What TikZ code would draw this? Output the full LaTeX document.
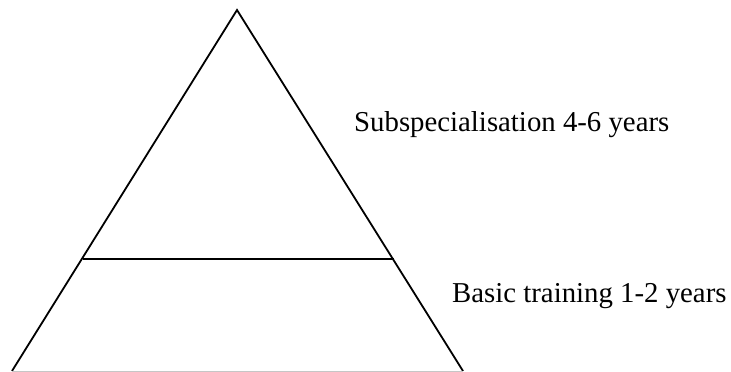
\documentclass[tikz,border=0pt]{standalone}
\usepackage{fontspec}
\setmainfont{Liberation Serif}
\begin{document}
\begin{tikzpicture}[x=1pt,y=-1pt,
  edge/.style={line width=1.8pt,line join=miter},
  lbl/.style={anchor=base west,inner sep=0pt,font=\fontsize{28.8}{32}\selectfont}]
\useasboundingbox (0,0) rectangle (731,372);
\coordinate (apex) at (237,10);
\coordinate (bl) at (12,371);
\coordinate (br) at (463,371);
\coordinate (ml) at (82.5,259);
\coordinate (mr) at (393.5,259);
\draw[edge] (bl) -- (apex) -- (br);
\draw[edge] (ml) -- (mr);
\draw[gray!45,line width=0.8pt] (bl) -- (br);
\node[lbl] (sub) at (354,131) {Subspecialisation 4-6 years};
\node[lbl] (basic) at (452,302) {Basic training 1-2 years};
\end{tikzpicture}
\end{document}
